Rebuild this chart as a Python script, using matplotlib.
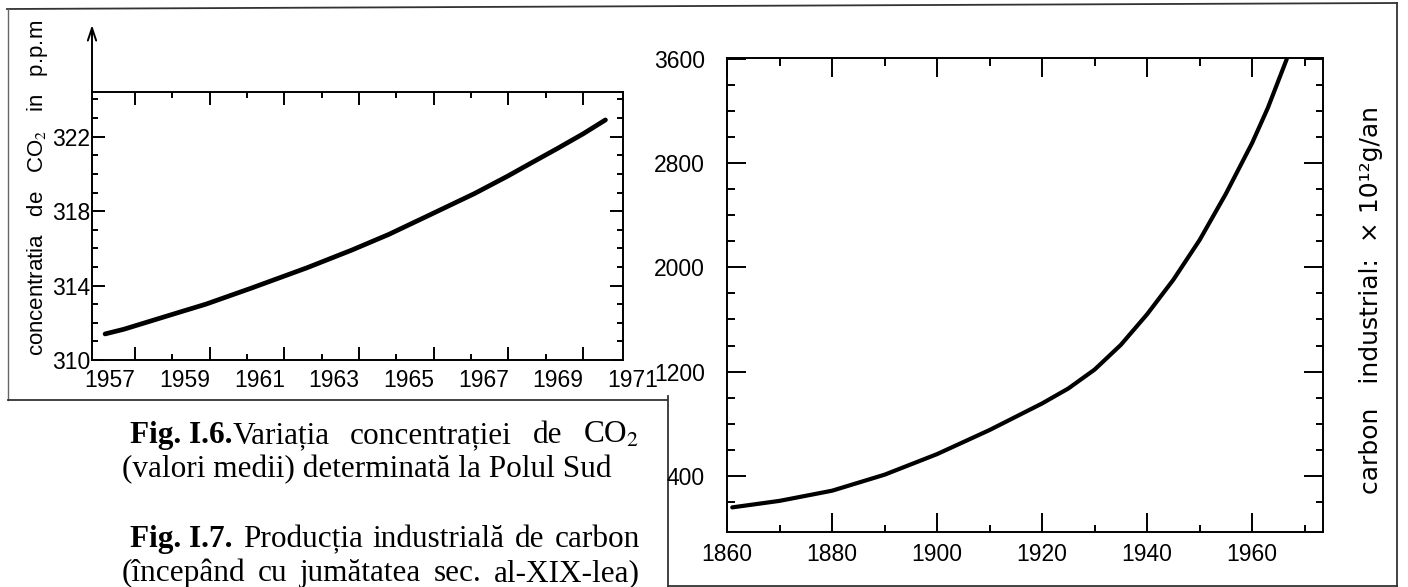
import matplotlib
matplotlib.use("Agg")
import matplotlib.pyplot as plt
from matplotlib.ticker import FixedLocator

# --- Fig. I.6 : CO2 concentration at the South Pole (mean values) ---
co2_years = [1956.2, 1956.7, 1958.0, 1958.9, 1960.1, 1961.6, 1962.8, 1963.8,
             1964.9, 1966.1, 1967.0, 1967.4, 1968.3, 1969.0, 1969.6]
co2_ppm = [311.4, 311.65, 312.45, 313.0, 313.85, 314.95, 315.9, 316.75,
           317.8, 318.95, 319.9, 320.35, 321.35, 322.15, 322.9]
co2_year_labels = [1957, 1959, 1961, 1963, 1965, 1967, 1969, 1971]
co2_ppm_labels = [310, 314, 318, 322]

# --- Fig. I.7 : industrial carbon production ---
carbon_years = [1861, 1870, 1880, 1890, 1900, 1910, 1920, 1925, 1930, 1935,
                1940, 1945, 1950, 1955, 1960, 1963, 1966.6]
carbon_values = [157, 207, 285, 408, 566, 751, 955, 1070, 1215, 1405,
                 1640, 1905, 2210, 2565, 2955, 3225, 3600]
carbon_year_labels = [1860, 1880, 1900, 1920, 1940, 1960]
carbon_value_labels = [400, 1200, 2000, 2800, 3600]

sans = ["Liberation Sans", "DejaVu Sans"]
serif = ["Liberation Serif", "DejaVu Serif"]
plt.rcParams["mathtext.fontset"] = "stix"
tick_size = 16.5

W, H = 1408, 587
fig = plt.figure(figsize=(W / 100, H / 100), dpi=100)

# background layer in pixel coordinates for the page frame and captions
bg = fig.add_axes([0, 0, 1, 1])
bg.set_xlim(0, W)
bg.set_ylim(H, 0)
bg.axis("off")
frame = dict(color="#333333", lw=1.3)
bg.plot([7, 1397], [9, 3], **frame)
bg.plot([8, 8], [9, 400], color="#666666", lw=1.0)
bg.plot([8, 667], [400, 400], **frame)
bg.plot([668, 668], [396, 587], **frame)
bg.plot([668, 1397], [586, 586], **frame)
bg.plot([1397, 1397], [3, 586], **frame)

# ---------------- left chart ----------------
ax1 = fig.add_axes([92 / W, 1 - 360 / H, (623 - 92) / W, (360 - 92) / H])
ax1.plot(co2_years, co2_ppm, color="black", lw=3.4, solid_capstyle="round",
         solid_joinstyle="round")
ax1.set_xlim(1955.85, 1970.07)
ax1.set_ylim(310, 324.4)
ax1.xaxis.set_major_locator(FixedLocator(co2_year_labels))
ax1.xaxis.set_minor_locator(FixedLocator(range(1958, 1969, 2)))
ax1.yaxis.set_major_locator(FixedLocator(co2_ppm_labels))
ax1.yaxis.set_minor_locator(FixedLocator(range(311, 325)))
ax1.tick_params(which="both", direction="in", top=True, right=True, width=1.4)
ax1.tick_params(which="major", length=9.5)
ax1.tick_params(which="minor", length=4.3)
ax1.tick_params(axis="x", labelbottom=False)
ax1.tick_params(axis="y", pad=1.5)
ax1.set_yticklabels([str(v) for v in co2_ppm_labels], family=sans,
                    fontsize=tick_size)
for s in ax1.spines.values():
    s.set_linewidth(1.4)

# year labels sit a little to the left of their tick marks
for yr in co2_year_labels:
    ax1.text(yr - 0.67, -0.035, str(yr), transform=ax1.get_xaxis_transform(),
             ha="center", va="top", family=sans, fontsize=tick_size,
             clip_on=False)

# the left spine continues upward as an arrow
ax1.annotate("", xy=(0, (360 - 25) / 268), xytext=(0, 1),
             xycoords="axes fraction",
             arrowprops=dict(arrowstyle="->,head_length=0.9,head_width=0.3",
                             lw=1.4, color="black", shrinkA=0, shrinkB=0))

ax1.set_ylabel("concentratia   de   CO$_2$   in   p.p.m", family=sans,
               fontsize=16)
ax1.yaxis.set_label_coords((38 - 92) / 531, (360 - 188) / 268)
ax1.yaxis.label.set_va("center")

# ---------------- right chart ----------------
ax2 = fig.add_axes([727 / W, 1 - 532 / H, (1323 - 727) / W, (532 - 58) / H])
ax2.plot(carbon_years, carbon_values, color="black", lw=3.0,
         solid_capstyle="round", solid_joinstyle="round")
ax2.set_xlim(1860, 1973.5)
ax2.set_ylim(-32, 3608)
ax2.xaxis.set_major_locator(FixedLocator(carbon_year_labels))
ax2.xaxis.set_minor_locator(FixedLocator(range(1870, 1971, 20)))
ax2.yaxis.set_major_locator(FixedLocator(carbon_value_labels))
ax2.yaxis.set_minor_locator(FixedLocator(
    [v for v in range(200, 3401, 200) if v not in carbon_value_labels]))
ax2.tick_params(which="both", direction="in", top=True, right=True, width=1.4)
ax2.tick_params(which="major", length=13.5)
ax2.tick_params(which="minor", length=5.4)
ax2.tick_params(axis="x", pad=8)
ax2.tick_params(axis="y", pad=16)
ax2.set_xticklabels([str(v) for v in carbon_year_labels], family=sans,
                    fontsize=tick_size)
ax2.set_yticklabels([str(v) for v in carbon_value_labels], family=sans,
                    fontsize=tick_size)
for s in ax2.spines.values():
    s.set_linewidth(1.4)

ax2.yaxis.set_label_position("right")
ax2.set_ylabel("carbon   industrial:  × 10¹²g/an", family="DejaVu Sans",
               fontsize=18)
ax2.yaxis.set_label_coords((1371 - 727) / 596, (532 - 300) / 474)
ax2.yaxis.label.set_va("center")

# ---------------- captions ----------------
cap = dict(family=serif, fontsize=22.5, va="baseline")
renderer = fig.canvas.get_renderer()


def justified_line(units, x0, x1, y):
    # each unit is a list of (text, weight) pieces set without a gap;
    # units are spread so the line fills x0..x1
    placed = []
    for unit in units:
        pieces = []
        for txt, weight in unit:
            t = bg.text(x0, y, txt, fontweight=weight, **cap)
            pieces.append((t, t.get_window_extent(renderer).width))
        placed.append(pieces)
    total = sum(w for pieces in placed for _, w in pieces)
    gap = (x1 - x0 - total) / (len(placed) - 1)
    x = x0
    for pieces in placed:
        for t, w in pieces:
            t.set_x(x)
            x += w
        x += gap


justified_line([[("Fig. I.6.", "bold"), ("Variația", "normal")],
                [("concentrației", "normal")], [("de", "normal")],
                [("CO$_2$", "normal")]], 130, 639, 443)
bg.text(122, 477, "(valori medii) determinată la Polul Sud", **cap)
justified_line([[("Fig. I.7.", "bold")], [("Producția", "normal")],
                [("industrială", "normal")], [("de", "normal")],
                [("carbon", "normal")]], 130, 640, 547)
justified_line([[("(începând", "normal")], [("cu", "normal")],
                [("jumătatea", "normal")], [("sec.", "normal")],
                [("al-XIX-lea)", "normal")]], 122, 640, 581)

fig.savefig("out.png", dpi=100)
